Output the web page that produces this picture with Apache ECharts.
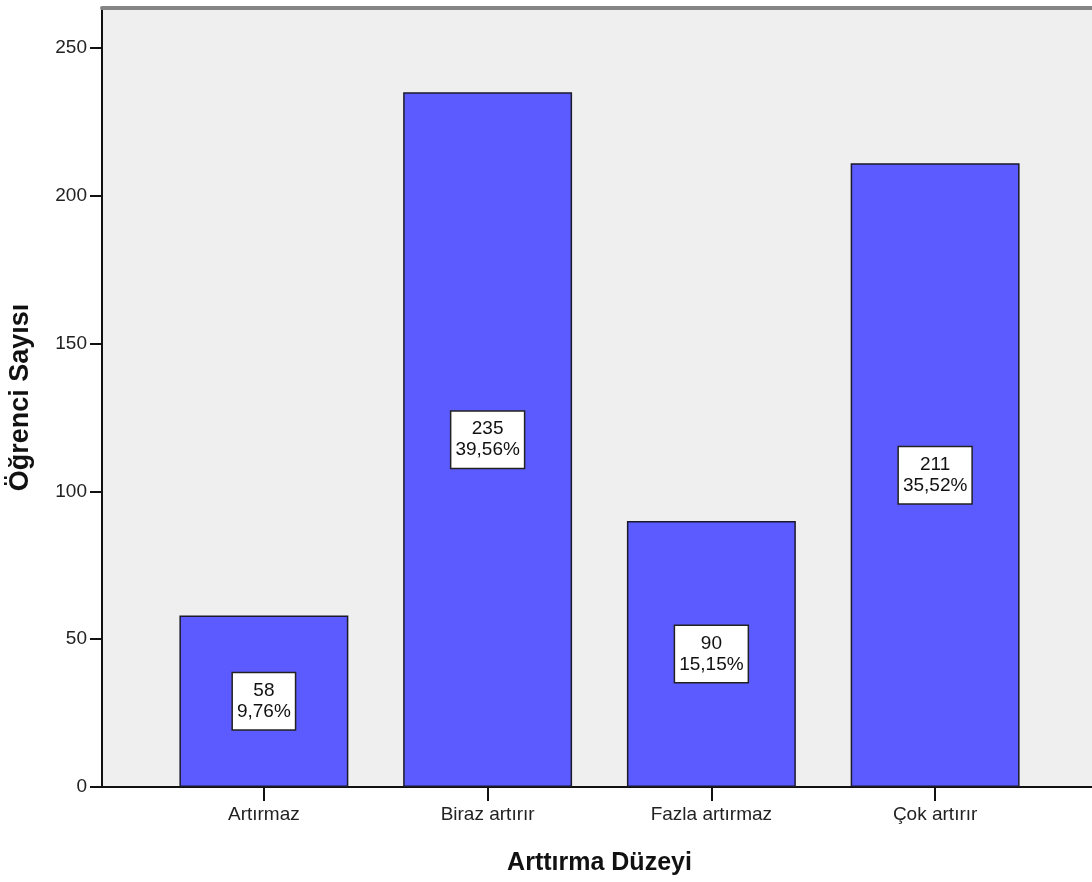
<!DOCTYPE html>
<html>
<head>
<meta charset="utf-8">
<script src="https://cdn.jsdelivr.net/npm/echarts@6/dist/echarts.min.js"></script>
<style>html,body{margin:0;padding:0;background:#fff}#c{width:1092px;height:882px}</style>
</head>
<body>
<div id="c"></div>
<script>
const categories = ['Artırmaz', 'Biraz artırır', 'Fazla artırmaz', 'Çok artırır'];
const counts = [58, 235, 90, 211];
const percents = ['9,76%', '39,56%', '15,15%', '35,52%'];
const yMin = 0, yMax = 250, yInterval = 50;

const FONT = '"Liberation Sans", Arial, sans-serif';
const chart = echarts.init(document.getElementById('c'), null, {renderer: 'canvas'});
const noBounds = {outerBoundsMode: 'none', containLabel: false};
chart.setOption({
  animation: false,
  backgroundColor: '#ffffff',
  textStyle: {fontFamily: FONT},
  grid: [
    Object.assign({left: 102, right: 0, top: 8, bottom: 95, show: true, backgroundColor: '#efefef', borderWidth: 0}, noBounds),
    Object.assign({left: 102, right: 0, top: 48, bottom: 95}, noBounds),
    Object.assign({left: 152, right: 45, top: 48, bottom: 95}, noBounds)
  ],
  xAxis: [
    {gridIndex: 0, type: 'value', position: 'bottom', min: 0, max: 1,
     axisLine: {show: true, lineStyle: {color: '#111', width: 2}},
     axisTick: {show: false}, axisLabel: {show: false}, splitLine: {show: false}},
    {gridIndex: 0, type: 'value', position: 'top', min: 0, max: 1,
     axisLine: {show: true, lineStyle: {color: '#858585', width: 4}},
     axisTick: {show: false}, axisLabel: {show: false}, splitLine: {show: false}},
    {gridIndex: 1, type: 'value', min: 0, max: 1, show: false},
    {gridIndex: 2, type: 'category', data: categories, position: 'bottom',
     axisLine: {show: false},
     axisTick: {show: true, alignWithLabel: true, length: 14, lineStyle: {color: '#111', width: 2}},
     axisLabel: {color: '#222', fontSize: 19, margin: 18, fontFamily: FONT},
     name: 'Arttırma Düzeyi', nameLocation: 'middle', nameGap: 64,
     nameTextStyle: {fontSize: 25, fontWeight: 'bold', color: '#111', fontFamily: FONT}}
  ],
  yAxis: [
    {gridIndex: 0, type: 'value', min: 0, max: 1,
     axisLine: {show: true, lineStyle: {color: '#111', width: 2}},
     axisTick: {show: false}, axisLabel: {show: false}, splitLine: {show: false},
     name: 'Öğrenci Sayısı', nameLocation: 'middle', nameGap: 68, nameRotate: 90,
     nameTextStyle: {fontSize: 27, fontWeight: 'bold', color: '#111', fontFamily: FONT}},
    {gridIndex: 1, type: 'value', min: yMin, max: yMax, interval: yInterval,
     axisLine: {show: false},
     axisTick: {show: true, length: 12, lineStyle: {color: '#111', width: 2}},
     axisLabel: {color: '#222', fontSize: 19, margin: 15, fontFamily: FONT},
     splitLine: {show: false}},
    {gridIndex: 2, type: 'value', min: yMin, max: yMax, interval: yInterval, show: false,
     splitLine: {show: false}}
  ],
  series: [{
    type: 'bar',
    xAxisIndex: 3, yAxisIndex: 2,
    data: counts,
    barCategoryGap: '24.5%',
    itemStyle: {color: '#5b5bff', borderColor: '#1a1a2a', borderWidth: 1.5},
    label: {
      show: true, position: 'inside',
      formatter: p => p.value + '\n' + percents[p.dataIndex],
      color: '#111', fontSize: 19, lineHeight: 21, fontFamily: FONT,
      backgroundColor: '#ffffff', borderColor: '#222', borderWidth: 1.5,
      padding: [7, 4, 7, 4], align: 'center'
    }
  }]
});
</script>
</body>
</html>
